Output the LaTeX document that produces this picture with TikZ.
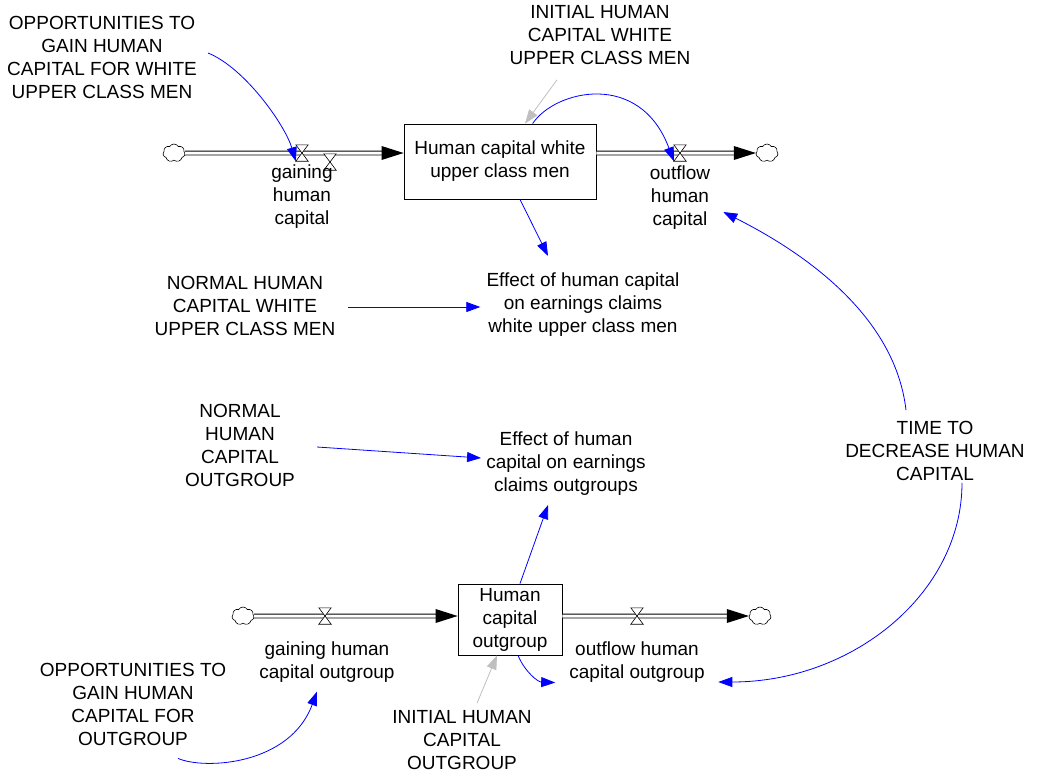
\documentclass[tikz,border=0pt]{standalone}
\usepackage{fontspec}
\setmainfont{Liberation Sans}
\usetikzlibrary{arrows.meta,shapes.symbols,calc}
\begin{document}
\begin{tikzpicture}[x=1pt,y=-1pt,
  txt/.style={align=center,inner sep=0pt,font=\fontsize{19}{23}\selectfont},
  stock/.style={draw,line width=0.8pt,inner sep=0pt,align=center,font=\fontsize{19}{23}\selectfont},
  valvenode/.style={inner sep=0pt,minimum width=12pt,minimum height=16pt},
  cloudnode/.style={cloud,cloud puffs=7,cloud puff arc=120,draw,fill=white,line width=0.6pt,minimum width=22pt,minimum height=18pt,inner sep=0pt},
  pipe/.style={double=white,double distance=3pt,line width=0.8pt},
  link/.style={blue,line width=0.8pt,-{Triangle[length=14pt,width=10pt]}},
  initlink/.style={black!25,line width=0.8pt,-{Triangle[length=14pt,width=10pt]}},
]
\useasboundingbox (0,0) rectangle (1053,777);

% stocks
\node[stock,minimum width=192pt,minimum height=75pt] (b1) at (500,161.5) {Human capital white\\upper class men};
\node[stock,minimum width=104pt,minimum height=71pt] (b2) at (510,619.5) {Human\\capital\\outgroup};

% clouds
\node[cloudnode] (c1) at (174,153) {};
\node[cloudnode] (c2) at (767,153) {};
\node[cloudnode] (c3) at (243,616) {};
\node[cloudnode] (c4) at (760,616) {};

% valves
\node[valvenode] (v1) at (302,153) {};
\node[valvenode] (v2) at (330,162) {};
\node[valvenode] (v3) at (680,153) {};
\node[valvenode] (v4) at (325,616) {};
\node[valvenode] (v5) at (637,616) {};

% pipes
\draw[pipe] (c1.east) -- ($(b1.west|-c1)+(-21,0)$);
\fill ($(b1.west|-c1)$) -- ++(-22,-7) -- ++(0,14) -- cycle;
\draw[pipe] (b1.east|-c2) -- ($(c2.west)+(-21,0)$);
\fill (c2.west) -- ++(-22,-7) -- ++(0,14) -- cycle;
\draw[pipe] (c3.east) -- ($(b2.west|-c3)+(-21,0)$);
\fill ($(b2.west|-c3)$) -- ++(-22,-7) -- ++(0,14) -- cycle;
\draw[pipe] (b2.east|-c4) -- ($(c4.west)+(-21,0)$);
\fill (c4.west) -- ++(-22,-7) -- ++(0,14) -- cycle;

\foreach \v in {v1,v2,v3,v4,v5}
  \draw[fill=white,line width=0.6pt] (\v.north west) -- (\v.north east) -- (\v.south west) -- (\v.south east) -- cycle;

% texts
\node[txt] (opp1) at (102,57) {OPPORTUNITIES TO\\GAIN HUMAN\\CAPITAL FOR WHITE\\UPPER CLASS MEN};
\node[txt] (init1) at (600,35) {INITIAL HUMAN\\CAPITAL WHITE\\UPPER CLASS MEN};
\node[txt] (gain1) at (302,197) {gaining\\human\\capital};
\node[txt] (out1) at (680,198) {outflow\\human\\capital};
\node[txt] (norm1) at (245,306) {NORMAL HUMAN\\CAPITAL WHITE\\UPPER CLASS MEN};
\node[txt] (eff1) at (583,305) {Effect of human capital\\on earnings claims\\white upper class men};
\node[txt] (norm2) at (240,445) {NORMAL\\HUMAN\\CAPITAL\\OUTGROUP};
\node[txt] (eff2) at (566,464) {Effect of human\\capital on earnings\\claims outgroups};
\node[txt] (time) at (935,451) {TIME TO\\DECREASE HUMAN\\CAPITAL};
\node[txt] (gain2) at (327,662) {gaining human\\capital outgroup};
\node[txt] (out2) at (637,662) {outflow human\\capital outgroup};
\node[txt] (opp2) at (133,704) {OPPORTUNITIES TO\\GAIN HUMAN\\CAPITAL FOR\\OUTGROUP};
\node[txt] (init2) at (462,740) {INITIAL HUMAN\\CAPITAL\\OUTGROUP};

% links
\draw[link] ($(opp1.east)+(11,-4)$) .. controls (245,68) and (285,125) .. (v1.south west);
\draw[link] ($(b1.north west)+(129,0)$) .. controls (555,90) and (640,70) .. (v3.south west);
\draw[link] ($(b1.south)+(20,0)$) -- ($(eff1.north)+(-35,-17)$);
\draw[link] ($(norm1.east)+(13,1)$) -- ($(eff1.west)+(-6,2)$);
\draw[link] ($(norm2.east)+(22,2)$) -- ($(eff2.west)+(-5,-6)$);
\draw[link] ($(b2.north)+(10,0)$) -- ($(eff2.south)+(-18,9)$);
\draw[link] ($(b2.south)+(8,0)$) .. controls (525,672) and (538,682) .. ($(out2.south west)+(-14,0)$);
\draw[link] ($(time.north)+(-29,-11)$) .. controls (895,315) and (803,252) .. ($(out1.east)+(13,14)$);
\draw[link] ($(time.south)+(27,2)$) .. controls (962,593) and (853,682) .. ($(out2.east)+(13.5,20)$);
\draw[link] ($(opp2.south)+(45,13)$) .. controls (205,770) and (290,765) .. ($(gain2.south)+(-10,9)$);
\draw[initlink] ($(init1.south)+(-43,15)$) -- ($(b1.north)+(25,0)$);
\draw[initlink] ($(init2.north)+(15,-7)$) -- ($(b2.south)+(-13,0)$);
\end{tikzpicture}
\end{document}
